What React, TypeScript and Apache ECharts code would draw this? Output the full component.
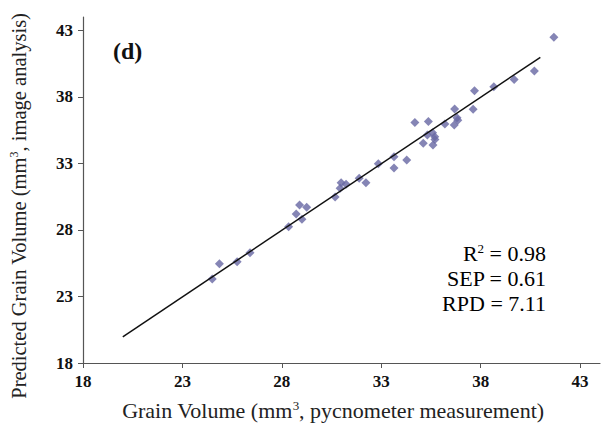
import React, { useEffect, useRef } from "react";
import * as echarts from "echarts";

const tickValues = [18, 23, 28, 33, 38, 43];

const measured = [
  24.5, 24.86, 25.75, 26.4, 28.34, 28.72, 28.89, 29.25, 29.01, 30.68,
  30.98, 31.23, 30.93, 31.89, 32.23, 32.85, 33.64, 33.64, 34.28, 34.69,
  35.37, 35.32, 35.58, 35.69, 35.7, 35.11, 35.6, 36.2, 36.67, 36.81,
  36.85, 36.69, 37.62, 37.69, 38.66, 39.68, 40.7, 41.68,
];
const predicted = [
  24.31, 25.46, 25.61, 26.29, 28.24, 29.19, 29.87, 29.7, 28.8, 30.47,
  31.55, 31.43, 31.13, 31.88, 31.55, 32.97, 33.5, 32.65, 33.25, 36.07,
  36.14, 35.13, 35.3, 35.0, 34.79, 34.51, 34.39, 35.96, 35.88, 36.42,
  36.25, 37.08, 37.06, 38.46, 38.76, 39.31, 39.94, 42.47,
];
const fitX = [20, 41];
const fitY = [19.97, 40.97];

const panelLabel = "(d)";
const statsLines = [
  "{a|R}{s|2}{a| = 0.98}",
  "{a|SEP = 0.61}",
  "{a|RPD = 7.11}",
];

const FONT = "Liberation Serif";

export default function App() {
  const ref = useRef<HTMLDivElement>(null);
  useEffect(() => {
    if (!ref.current) return;
    const chart = echarts.init(ref.current, undefined, { renderer: "svg" });
    const axisCommon = {
      type: "value" as const,
      min: 18,
      max: 44,
      interval: 5,
      splitLine: { show: false },
      axisLine: { show: true, lineStyle: { color: "#555", width: 1.2 } },
      axisTick: { show: true, length: 5, customValues: tickValues, lineStyle: { color: "#555" } },
      axisLabel: {
        customValues: tickValues,
        color: "#111",
        fontFamily: FONT,
        fontWeight: "bold" as const,
        fontSize: 17,
      },
    };
    const mkRich = (size: number) => ({
      a: { fontFamily: FONT, fontSize: size, color: "#222" },
      s: { fontFamily: FONT, fontSize: Math.round(size * 0.6), color: "#222", verticalAlign: "top" as const, padding: [0, 0, 7, 0] },
    });
    chart.setOption({
      animation: false,
      grid: { left: 81, right: 2, top: 17, bottom: 68 },
      xAxis: {
        ...axisCommon,
        axisLabel: { ...axisCommon.axisLabel, margin: 10 },
        name: "{a|Grain Volume (mm}{s|3}{a|, pycnometer measurement)}",
        nameLocation: "middle",
        nameGap: 36,
        nameTextStyle: { rich: mkRich(22), padding: [0, 17, 0, 0] },
      },
      yAxis: {
        ...axisCommon,
        axisLabel: { ...axisCommon.axisLabel, margin: 10 },
        name: "{a|Predicted Grain Volume (mm}{s|3}{a|, image analysis)}",
        nameLocation: "middle",
        nameGap: 54,
        nameTextStyle: { rich: mkRich(20.5), padding: [0, 32, 0, 0] },
      },
      graphic: [
        {
          type: "text",
          left: 113,
          top: 39,
          style: { text: panelLabel, font: `bold 24px "${FONT}"`, fill: "#111" },
        },
        ...statsLines.map((t, i) => ({
          type: "text",
          x: 546,
          y: 253 + i * 25,
          style: {
            text: t,
            align: "right",
            verticalAlign: "middle",
            rich: {
              a: { fontFamily: FONT, fontSize: 22, color: "#111" },
              s: { fontFamily: FONT, fontSize: 13, color: "#111", verticalAlign: "top", padding: [0, 0, 9, 0] },
            },
          },
        })),
      ],
      series: [
        {
          type: "scatter",
          symbol: "diamond",
          symbolSize: 9,
          itemStyle: { color: "#6666A3" },
          data: measured.map((x, i) => [x, predicted[i]]),
        },
        {
          type: "line",
          showSymbol: false,
          symbol: "none",
          lineStyle: { color: "#111", width: 1.5 },
          data: fitX.map((x, i) => [x, fitY[i]]),
        },
      ],
    });
    return () => chart.dispose();
  }, []);
  return <div ref={ref} style={{ width: 602, height: 431, position: "absolute", left: 0, top: 0 }} />;
}
